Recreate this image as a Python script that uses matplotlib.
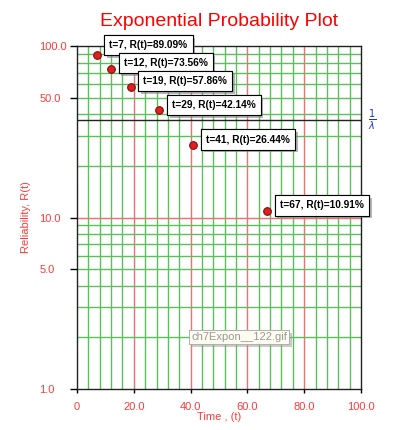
import numpy as np
import matplotlib
matplotlib.use("Agg")
import matplotlib.pyplot as plt
import matplotlib.patheffects as pe
from matplotlib.ticker import FixedLocator, NullLocator, FixedFormatter

plt.rcParams['font.family'] = ['Liberation Sans', 'DejaVu Sans']

# ---------------- data ----------------
times = [7, 12, 19, 29, 41, 67]
reliab = [89.09, 73.56, 57.86, 42.14, 26.44, 10.91]
mean_life_R = 100 * np.exp(-1)  # 1/lambda line, R = 36.79%

x_ticks = [0, 20, 40, 60, 80, 100]
x_ticklabels = ["0", "20.0", "40.0", "60.0", "80.0", "100.0"]
y_ticks = [1, 5, 10, 50, 100]
y_ticklabels = ["1.0", "5.0", "10.0", "50.0", "100.0"]

RED = "#ff3b3b"
GRID_G = "#5cbf5c"
GRID_R = "#f07070"

fig = plt.figure(figsize=(3.95, 4.30), dpi=100)
ax = fig.add_axes([77/395, 1-389/430, 284/395, 343/430])
ax.set_yscale("log")
ax.set_xlim(0, 100)
ax.set_ylim(1, 100)

# grid lines
for v in range(4, 100, 4):
    if v % 20 == 0:
        ax.axvline(v, color=GRID_R, lw=1, zorder=1)
    else:
        ax.axvline(v, color=GRID_G, lw=1, zorder=1)
for dec in [1, 10]:
    for m in range(2, 10):
        ax.axhline(m*dec, color=GRID_G, lw=1, zorder=1)
ax.axhline(10, color=GRID_R, lw=1, zorder=1)

# 1/lambda line
ax.axhline(mean_life_R, color="#222222", lw=1, zorder=2)
ax.text(1.04, mean_life_R, r"$\frac{1}{\lambda}$", color="#2030d0", fontsize=10,
        transform=ax.get_yaxis_transform(), va="center", ha="center")

# points
ax.plot(times, reliab, "o", ms=5.5, mfc="#e02020", mec="#801010", mew=0.8, zorder=4)

for i, (t, r) in enumerate(zip(times, reliab)):
    dy = 7 if i == 0 else 4
    txt = ax.annotate("t=%d, R(t)=%.2f%%" % (t, r), (t, r), xytext=(9, dy),
                      textcoords="offset points", fontsize=7.3, fontweight="bold",
                      va="center", ha="left", zorder=5,
                      bbox=dict(boxstyle="square,pad=0.5", fc="white", ec="black", lw=0.8))
    txt.get_bbox_patch().set_path_effects([pe.withSimplePatchShadow(offset=(2, -2), shadow_rgbFace="#888888", alpha=0.6), pe.Normal()])

# ticks
ax.xaxis.set_major_locator(FixedLocator(x_ticks))
ax.xaxis.set_major_formatter(FixedFormatter(x_ticklabels))
ax.xaxis.set_minor_locator(NullLocator())
ax.yaxis.set_major_locator(FixedLocator(y_ticks))
ax.yaxis.set_major_formatter(FixedFormatter(y_ticklabels))
ax.yaxis.set_minor_locator(NullLocator())
ax.tick_params(axis="y", direction="out", length=5, width=1, colors="black",
               labelcolor=RED, labelsize=8, pad=22)
for lbl in ax.get_yticklabels():
    lbl.set_horizontalalignment("left")
ax.tick_params(axis="x", direction="out", length=3, width=1, colors="black",
               labelcolor=RED, labelsize=8, pad=6)
for s in ax.spines.values():
    s.set_color("#222222")
    s.set_linewidth(1)
    s.set_zorder(3)

ax.set_xlabel("Time , (t)", color=RED, fontsize=8, labelpad=0)
ax.yaxis.set_label_coords(-(77-31)/284, 0.5)
ax.set_ylabel("Reliability, R(t)", color=RED, fontsize=8)
fig.text(219/395, 1-22/430, "Exponential Probability Plot", color="#ff0000",
         fontsize=14, ha="center", va="center")

# watermark label
wm = fig.text(239/395, 1-337/430, "ch7Expon__122.gif", color="#999999", fontsize=8,
              ha="center", va="center",
              bbox=dict(boxstyle="square,pad=0.2", fc="#fbfbf0", ec="#aaaaaa", lw=0.6))
wm.get_bbox_patch().set_path_effects([pe.withSimplePatchShadow(offset=(2, -2), shadow_rgbFace="#999999", alpha=0.5), pe.Normal()])

fig.savefig("out.png", dpi=100)
